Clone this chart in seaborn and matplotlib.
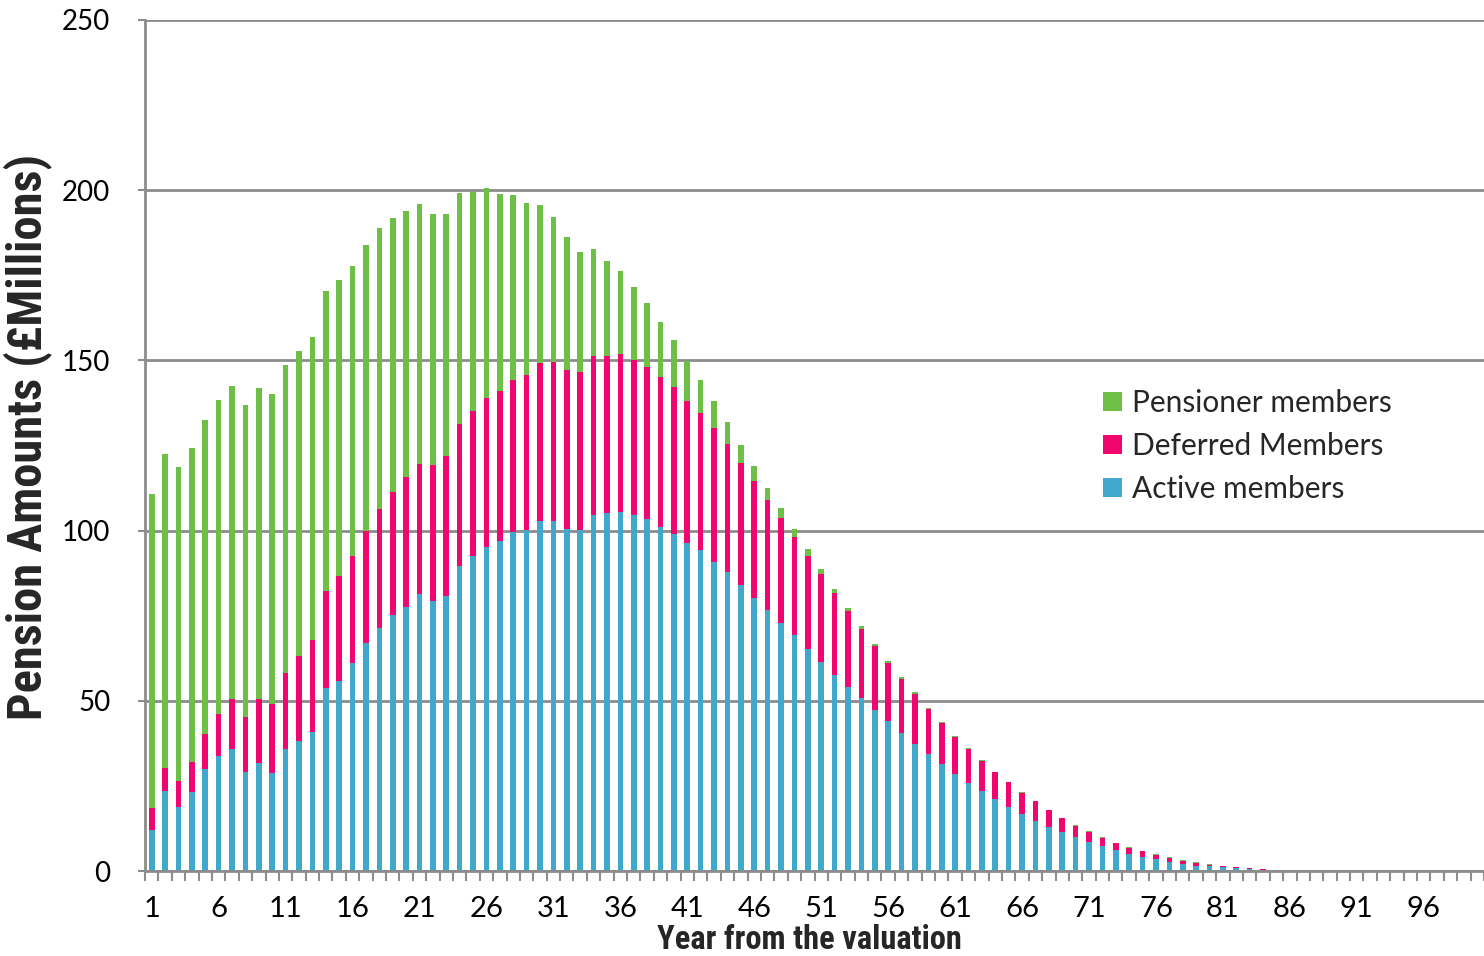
import numpy as np
import pandas as pd
import matplotlib
matplotlib.use("Agg")
import matplotlib.pyplot as plt
from matplotlib.patches import Patch
from matplotlib import font_manager as fm
import seaborn as sns

# Projected pension amounts (£ millions) by year from the valuation
years = list(range(1, 101))

active = [
    11.9, 23.6, 18.8, 23.3, 30.1, 33.7, 35.7, 29.0, 31.6, 28.9,
    35.7, 38.1, 40.9, 53.7, 55.8, 61.0, 67.1, 71.4, 75.1, 77.5,
    81.4, 79.4, 80.8, 89.5, 92.4, 95.1, 96.9, 99.5, 100.3, 102.8,
    102.8, 100.4, 100.1, 104.5, 105.2, 105.4, 104.6, 103.3, 101.2, 99.1,
    96.5, 94.2, 90.9, 87.8, 83.9, 80.3, 76.6, 73.0, 69.2, 65.2,
    61.5, 57.7, 54.2, 50.7, 47.3, 44.0, 40.5, 37.3, 34.3, 31.4,
    28.6, 25.9, 23.4, 21.1, 18.7, 16.8, 14.8, 13.0, 11.4, 9.9,
    8.5, 7.3, 6.1, 5.1, 4.2, 3.4, 2.7, 2.2, 1.6, 1.4,
    1.1, 0.8, 0.5, 0.3, 0.15, 0.05, 0, 0, 0, 0,
    0, 0, 0, 0, 0, 0, 0, 0, 0, 0,
]

deferred = [
    6.7, 6.8, 7.6, 8.8, 10.1, 12.5, 14.9, 16.1, 19.0, 20.2,
    22.5, 25.1, 27.0, 28.7, 30.8, 31.4, 32.8, 35.0, 36.2, 38.1,
    38.3, 40.0, 41.0, 41.7, 42.6, 43.9, 44.0, 44.8, 45.5, 46.3,
    46.6, 46.9, 46.6, 46.9, 46.2, 46.4, 45.5, 44.9, 44.0, 43.1,
    41.7, 40.4, 39.3, 37.6, 36.0, 34.3, 32.4, 30.7, 29.0, 27.4,
    25.7, 24.0, 22.2, 20.4, 18.9, 17.2, 16.0, 14.7, 13.2, 12.1,
    10.8, 9.9, 8.9, 7.9, 7.3, 6.2, 5.7, 4.8, 4.1, 3.4,
    3.1, 2.5, 2.1, 1.8, 1.7, 1.4, 1.2, 0.8, 0.8, 0.5,
    0.4, 0.3, 0.3, 0.2, 0.1, 0.05, 0, 0, 0, 0,
    0, 0, 0, 0, 0, 0, 0, 0, 0, 0,
]

pensioner = [
    92.2, 92.1, 92.4, 92.1, 92.4, 92.3, 92.0, 91.7, 91.3, 91.0,
    90.5, 89.7, 89.0, 88.0, 87.0, 85.4, 84.1, 82.4, 80.6, 78.4,
    76.2, 73.7, 71.2, 67.9, 64.6, 61.5, 57.9, 54.4, 50.5, 46.5,
    42.7, 38.9, 35.2, 31.2, 27.9, 24.6, 21.6, 18.8, 16.2, 13.7,
    11.5, 9.6, 7.9, 6.5, 5.2, 4.3, 3.6, 2.8, 2.2, 2.0,
    1.5, 1.2, 1.0, 0.9, 0.6, 0.6, 0.4, 0.5, 0.3, 0.3,
    0.4, 0.2, 0.2, 0.1, 0.1, 0.1, 0.1, 0.1, 0.1, 0.1,
    0.1, 0.1, 0.1, 0.1, 0.1, 0.1, 0.1, 0.1, 0.1, 0.1,
    0.1, 0.1, 0.1, 0.1, 0.1, 0.05, 0, 0, 0, 0,
    0, 0, 0, 0, 0, 0, 0, 0, 0, 0,
]

series_labels = ["Pensioner members", "Deferred Members", "Active members"]
y_ticks = [0, 50, 100, 150, 200, 250]
x_tick_years = list(range(1, 100, 5))

GREEN = "#6DBF45"
PINK = "#F1056F"
BLUE = "#42A7CD"
GRID = "#8C8C8C"

sns.set_theme(style="white")

fonts = fm.fontManager.ttflist
available = {f.name for f in fonts}
body_font = "Lato" if "Lato" in available else "DejaVu Sans"

# Prefer a narrow bold face for the axis titles
title_font, title_stretch = "Open Sans", "normal"
for name in ("Liberation Sans Narrow", "Roboto Condensed", "Open Sans Condensed"):
    if name in available:
        title_font = name
        break
else:
    if any(f.name == "DejaVu Sans" and str(f.stretch) == "condensed"
           and f.weight in (700, "bold") for f in fonts):
        title_font, title_stretch = "DejaVu Sans", "condensed"
plt.rcParams["font.family"] = [body_font, "DejaVu Sans"]

df = pd.DataFrame({
    "year": years,
    "active": active,
    "deferred": deferred,
    "pensioner": pensioner,
})
df["cum_deferred"] = df["active"] + df["deferred"]
df["cum_total"] = df["cum_deferred"] + df["pensioner"]

fig = plt.figure(figsize=(14.84, 9.56), dpi=100)
ax = fig.add_axes([145 / 1484, 85 / 956, (1484 - 145) / 1484, 851 / 956])

# Stacked bars: draw the running totals from the tallest layer down
bar_kw = dict(x="year", order=years, width=0.42, saturation=1,
              linewidth=0, errorbar=None, ax=ax)
sns.barplot(data=df, y="cum_total", color=GREEN, **bar_kw)
sns.barplot(data=df, y="cum_deferred", color=PINK, **bar_kw)
sns.barplot(data=df, y="active", color=BLUE, **bar_kw)

ax.set_xlim(-0.5, 99.5)
ax.set_ylim(0, 250)
ax.set_yticks(y_ticks)
ax.set_yticklabels([str(v) for v in y_ticks])
ax.set_xticks([y - 1 for y in x_tick_years])
ax.set_xticklabels([str(y) for y in x_tick_years])
ax.set_xticks(np.arange(-0.5, 100, 1), minor=True)

ax.set_axisbelow(True)
ax.yaxis.grid(True, color=GRID, linewidth=2)
ax.xaxis.grid(False)

for side in ("top", "right"):
    ax.spines[side].set_visible(False)
for side in ("left", "bottom"):
    ax.spines[side].set_color(GRID)
    ax.spines[side].set_linewidth(2)

ax.tick_params(axis="x", which="major", length=0, pad=18, labelsize=21,
               labelcolor="black")
ax.tick_params(axis="x", which="minor", bottom=True, length=7, width=1.5,
               color=GRID)
ax.tick_params(axis="y", which="major", left=True, length=5, width=1.5,
               color=GRID, pad=20, labelsize=20, labelcolor="black")

title_kw = dict(fontweight="bold", family=[title_font, "DejaVu Sans"],
                fontstretch=title_stretch)
ax.set_xlabel("Year from the valuation", fontsize=22, **title_kw)
ax.xaxis.set_label_coords(0.496, -0.0625)
ax.set_ylabel("Pension Amounts (£Millions)", fontsize=30, **title_kw)
ax.yaxis.set_label_coords(-0.0695, 0.51)

handles = [Patch(facecolor=c, edgecolor="none") for c in (GREEN, PINK, BLUE)]
ax.legend(handles, series_labels, loc="center left",
          bbox_to_anchor=(0.7155, 0.4994), frameon=False, fontsize=21.5,
          borderpad=0, borderaxespad=0, handlelength=0.64, handleheight=0.64,
          handletextpad=0.33, labelspacing=0.5)

# Size the axis titles to their intended printed lengths
fig.canvas.draw()
renderer = fig.canvas.get_renderer()
ylab = ax.yaxis.label
ylab.set_fontsize(ylab.get_fontsize() * 565 / ylab.get_window_extent(renderer).height)
xlab = ax.xaxis.label
xlab.set_fontsize(xlab.get_fontsize() * 305 / xlab.get_window_extent(renderer).width)

fig.savefig("out.png", dpi=100)
